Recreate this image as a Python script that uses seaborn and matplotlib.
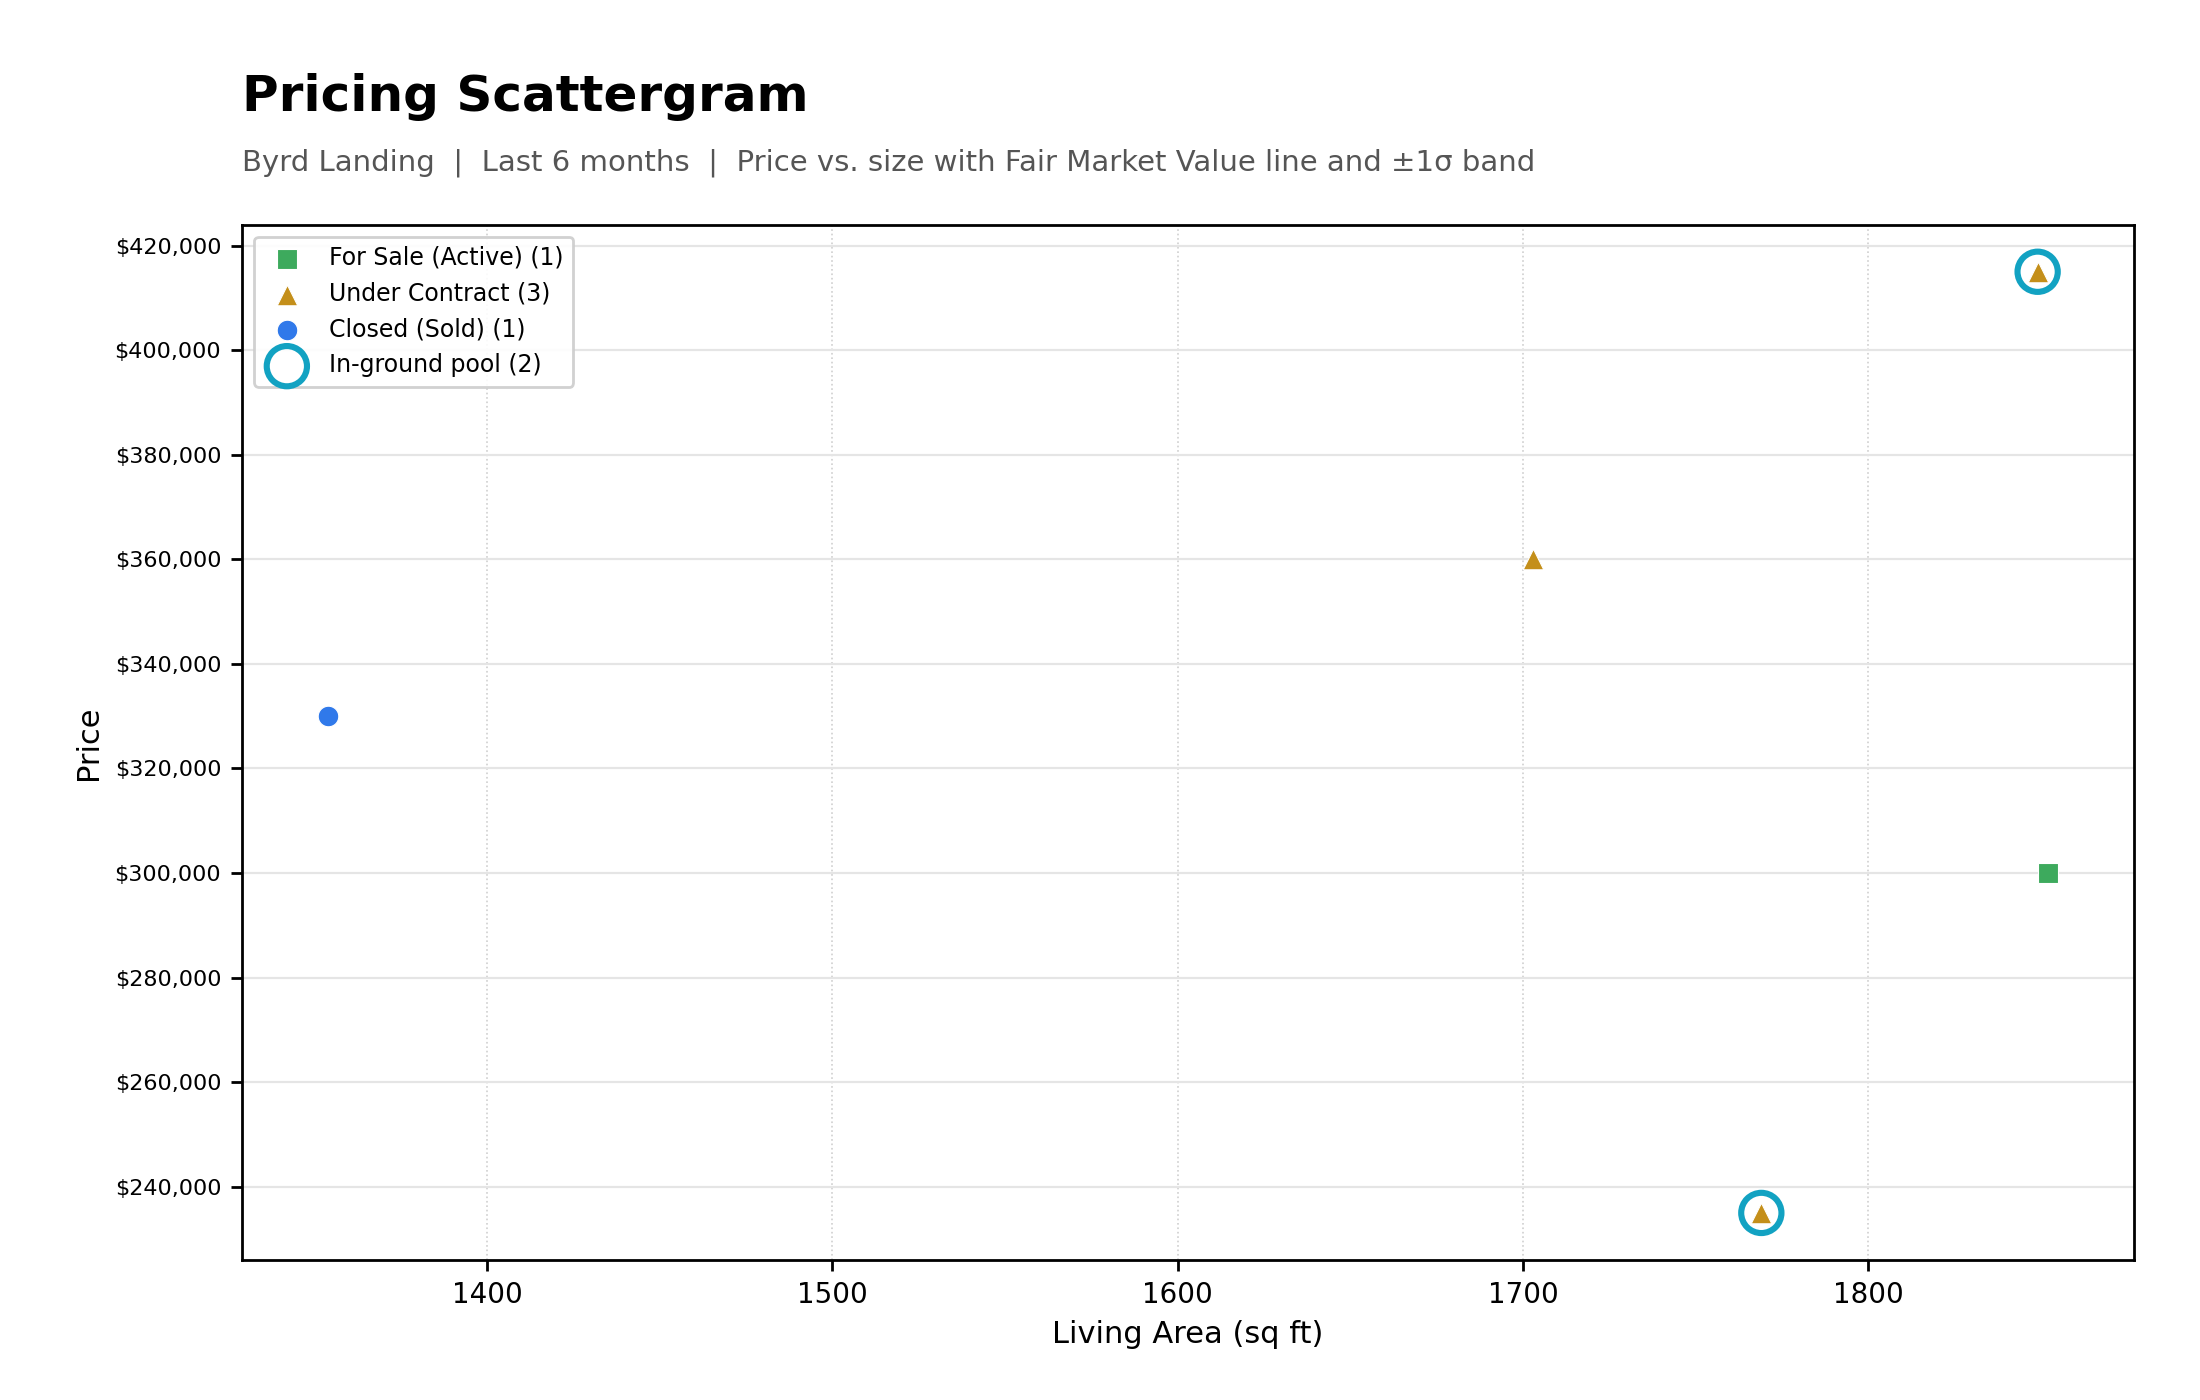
import numpy as np
import pandas as pd
import matplotlib
matplotlib.use("Agg")
import matplotlib.pyplot as plt
import matplotlib.ticker as mticker
import seaborn as sns

# listings
status = ["Closed (Sold)", "Under Contract", "Under Contract", "Under Contract", "For Sale (Active)"]
sqft = [1354, 1703, 1769, 1849, 1852]
price = [330000, 360000, 235000, 415000, 300000]
pool = [False, False, True, True, False]

df = pd.DataFrame({"status": status, "sqft": sqft, "price": price, "pool": pool})

order = ["For Sale (Active)", "Under Contract", "Closed (Sold)"]
colors = {"For Sale (Active)": "#3daa5d", "Under Contract": "#c48f1a", "Closed (Sold)": "#3079ea"}
markers = {"For Sale (Active)": "s", "Under Contract": "^", "Closed (Sold)": "o"}

sns.set_style("white")
plt.rcParams["font.family"] = ["DejaVu Sans"]
for k in ["text.color", "axes.labelcolor", "xtick.color", "ytick.color"]:
    plt.rcParams[k] = "black"

fig, ax = plt.subplots(figsize=(11, 7), dpi=200)
plt.subplots_adjust(left=0.11, right=0.970, top=0.8395, bottom=0.100)

for st in order:
    sub = df[df["status"] == st]
    sns.scatterplot(data=sub, x="sqft", y="price", ax=ax, color=colors[st],
                    marker=markers[st], s=55, edgecolor="white", linewidth=0.4,
                    label=f"{st} ({len(sub)})", zorder=3)

pools = df[df["pool"]]
ax.scatter(pools["sqft"], pools["price"], s=210, facecolors="none",
           edgecolors="#12a2c2", linewidths=2.2, zorder=4,
           label=f"In-ground pool ({len(pools)})")

ax.yaxis.set_major_locator(mticker.MultipleLocator(20000))
ax.yaxis.set_major_formatter(mticker.FuncFormatter(lambda v, p: f"${v:,.0f}"))
ax.grid(axis="y", color="#e5e5e5", linewidth=0.8, linestyle="-")
ax.grid(axis="x", color="#cfcfcf", linewidth=0.6, linestyle=":")
ax.set_axisbelow(True)
for sp in ax.spines.values():
    sp.set_color("black")
    sp.set_linewidth(1)
ax.tick_params(axis="y", labelsize=8, left=True, length=4, width=1, color="black")
ax.tick_params(axis="x", labelsize=10, bottom=True, length=4, width=1, color="black")
ax.set_xlabel("Living Area (sq ft)", fontsize=11)
ax.set_ylabel("Price", fontsize=11)

ax.legend(loc="upper left", fontsize=8.5, frameon=True, edgecolor="#cccccc", framealpha=0.9)

fig.text(0.11, 0.921, "Pricing Scattergram", fontsize=18, fontweight="bold", va="baseline")
fig.text(0.11, 0.878, "Byrd Landing  |  Last 6 months  |  Price vs. size with Fair Market Value line and \u00b11\u03c3 band",
         fontsize=10.5, color="#555555", va="baseline")

plt.savefig("out.png", dpi=200)
